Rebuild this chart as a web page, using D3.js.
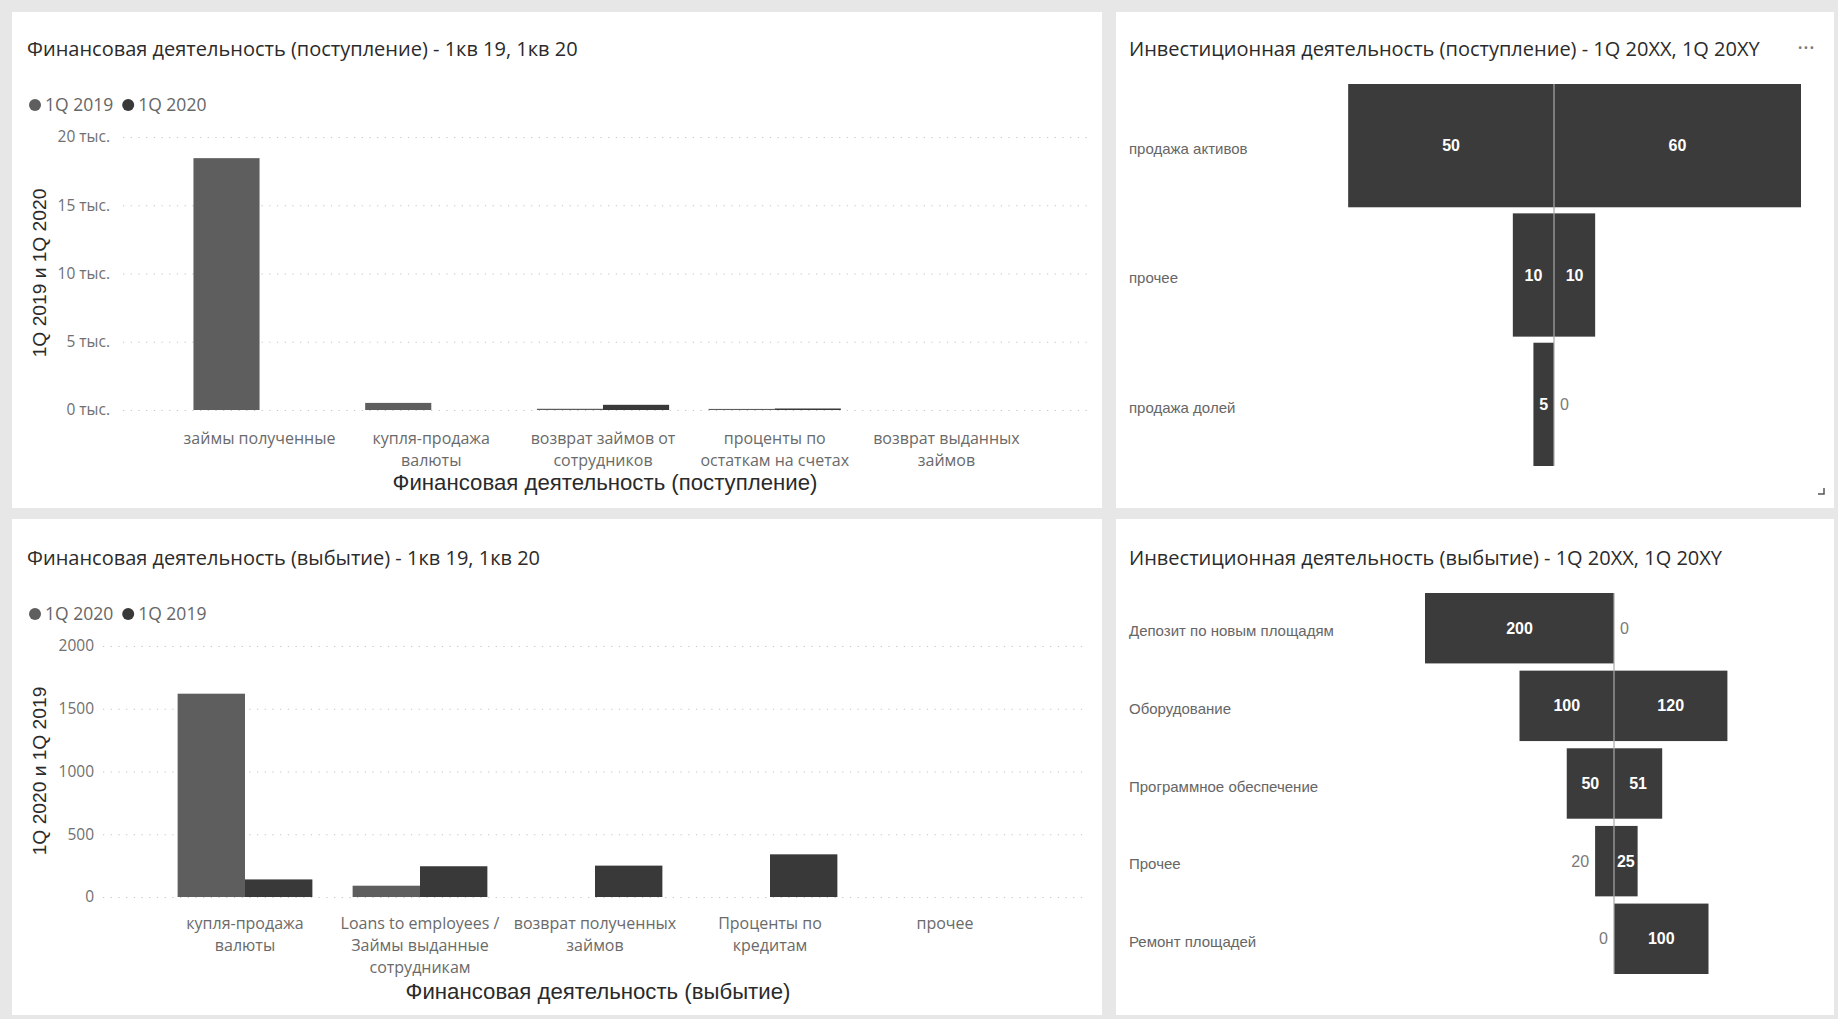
<!DOCTYPE html>
<html><head><meta charset="utf-8">
<script src="https://cdn.jsdelivr.net/npm/d3@7"></script>
<style>
html,body{margin:0;padding:0;background:#e7e7e7;}
svg{display:block}
</style></head><body>
<svg id="chart" width="1838" height="1019"></svg>
<script>
// ---------------- DATA ----------------
const finInCategories = ["займы полученные", "купля-продажа\nвалюты", "возврат займов от\nсотрудников", "проценты по\nостаткам на счетах", "возврат выданных\nзаймов"];
const finInSeries = ["1Q 2019", "1Q 2020"];
const finIn2019 = [18450, 520, 90, 80, 0];
const finIn2020 = [0, 0, 380, 110, 0];
const finInTicks = [0, 5000, 10000, 15000, 20000];

const finOutCategories = ["купля-продажа\nвалюты", "Loans to employees /\nЗаймы выданные\nсотрудникам", "возврат полученных\nзаймов", "Проценты по\nкредитам", "прочее"];
const finOutSeries = ["1Q 2020", "1Q 2019"];
const finOut2020 = [1620, 90, 0, 0, 0];
const finOut2019 = [140, 245, 250, 340, 0];
const finOutTicks = [0, 500, 1000, 1500, 2000];

const invInCategories = ["продажа активов", "прочее", "продажа долей"];
const invInXX = [50, 10, 5];
const invInXY = [60, 10, 0];

const invOutCategories = ["Депозит по новым площадям", "Оборудование", "Программное обеспечение", "Прочее", "Ремонт площадей"];
const invOutXX = [200, 100, 50, 20, 0];
const invOutXY = [0, 120, 51, 25, 100];

// ---------------- STYLE ----------------
const seriesColors = ["#5e5e5e", "#393939"];
const tornadoColor = "#3b3b3b";
const uiFont = "'Open Sans', 'Noto Sans', sans-serif";
const arialFont = "'Liberation Sans', Arial, sans-serif";

const svg = d3.select("#chart");

// panels
const panels = [
  {x:12, y:12, w:1090, h:496},
  {x:1116, y:12, w:718, h:496},
  {x:12, y:519, w:1090, h:496},
  {x:1116, y:519, w:718, h:496}
];
svg.selectAll("rect.panel").data(panels).join("rect").attr("class","panel")
  .attr("x", d=>d.x).attr("y", d=>d.y).attr("width", d=>d.w).attr("height", d=>d.h)
  .attr("fill", "#ffffff");

function title(x, y, t) {
  svg.append("text").attr("x", x).attr("y", y).attr("dy", "0.35em")
    .attr("font-family", uiFont).attr("font-size", 20).attr("fill", "#2b2b2b").text(t);
}

// ------------- grouped column chart -------------
function columnChart(o) {
  const g = svg.append("g");
  title(27, o.titleY, o.title);
  // legend
  const leg = g.append("g").attr("transform", `translate(29,${o.legendY})`);
  let lx = 0;
  o.series.forEach((s, i) => {
    leg.append("circle").attr("cx", lx + 6).attr("cy", 0).attr("r", 6).attr("fill", seriesColors[i]);
    const t = leg.append("text").attr("x", lx + 16).attr("y", 0).attr("dy", "0.35em")
      .attr("font-family", uiFont).attr("font-size", 17.5).attr("fill", "#666").text(s);
    lx += 16 + t.node().getComputedTextLength() + 9;
  });

  const y = d3.scaleLinear().domain([0, o.ticks[o.ticks.length - 1]]).range([o.y0, o.y1]);
  const x = d3.scaleBand().domain(o.categories).range(o.xRange).paddingInner(0.23).paddingOuter(0.115);
  const x1 = d3.scaleBand().domain(o.series).range([0, x.bandwidth()]);

  // y axis with gridlines
  const ya = g.append("g").attr("transform", `translate(${o.gridX0},0)`)
    .call(d3.axisLeft(y).tickValues(o.ticks).tickFormat(o.fmt).tickSize(-(o.gridX1 - o.gridX0)).tickPadding(o.tickPad));
  ya.select(".domain").remove();
  ya.selectAll(".tick line").attr("stroke", "#c4c4c4").attr("stroke-width", 1.2).attr("stroke-dasharray", "1.2,6.5");
  ya.selectAll(".tick text").attr("font-family", uiFont).attr("font-size", 15.5).attr("fill", "#707070");

  // bars
  const rows = o.categories.map((c, i) => ({c, vals: o.values.map((v, j) => ({s: o.series[j], v: v[i], j}))}));
  g.selectAll("g.grp").data(rows).join("g").attr("transform", d => `translate(${x(d.c)},0)`)
    .selectAll("rect").data(d => d.vals.filter(e => e.v > 0)).join("rect")
    .attr("x", d => x1(d.s)).attr("width", x1.bandwidth())
    .attr("y", d => y(d.v)).attr("height", d => y(0) - y(d.v))
    .attr("fill", d => seriesColors[d.j]);

  // x axis labels
  const xa = g.append("g").attr("transform", `translate(0,${o.y0})`)
    .call(d3.axisBottom(x).tickSize(0).tickPadding(o.xPad));
  xa.select(".domain").remove();
  xa.selectAll(".tick text").attr("font-family", uiFont).attr("font-size", 16).attr("fill", "#6a6a6a")
    .each(function(d) {
      const t = d3.select(this); t.text(null);
      d.split("\n").forEach((l, i) => t.append("tspan").attr("x", 0).attr("dy", i === 0 ? "0.71em" : 22).text(l));
    });

  // axis titles
  g.append("text").attr("x", o.xTitleX).attr("y", o.xTitleY).attr("dy", "0.35em").attr("text-anchor", "middle")
    .attr("font-family", arialFont).attr("font-size", 22.2).attr("fill", "#2a2a2a").text(o.xTitle);
  g.append("text").attr("transform", `translate(39,${o.yTitleY}) rotate(-90)`).attr("dy", "0.35em").attr("text-anchor", "middle")
    .attr("font-family", arialFont).attr("font-size", 19.2).attr("fill", "#2a2a2a").text(o.yTitle);
}

columnChart({
  title: "Финансовая деятельность (поступление) - 1кв 19, 1кв 20", titleY: 49,
  legendY: 105, series: finInSeries, categories: finInCategories, values: [finIn2019, finIn2020],
  ticks: finInTicks, fmt: d => (d / 1000) + " тыс.",
  y0: 410, y1: 137, xRange: [173.7, 1032.3], gridX0: 123, gridX1: 1088, tickPad: 13, xPad: 23,
  xTitle: "Финансовая деятельность (поступление)", xTitleX: 605, xTitleY: 482,
  yTitle: "1Q 2019 и 1Q 2020", yTitleY: 273
});

columnChart({
  title: "Финансовая деятельность (выбытие) - 1кв 19, 1кв 20", titleY: 558,
  legendY: 614, series: finOutSeries, categories: finOutCategories, values: [finOut2020, finOut2019],
  ticks: finOutTicks, fmt: d3.format("d"),
  y0: 897, y1: 646, xRange: [157.5, 1032.5], gridX0: 103, gridX1: 1088, tickPad: 9, xPad: 21,
  xTitle: "Финансовая деятельность (выбытие)", xTitleX: 598, xTitleY: 991,
  yTitle: "1Q 2020 и 1Q 2019", yTitleY: 771
});

// ------------- tornado chart -------------
function tornado(o) {
  const g = svg.append("g");
  title(1129, o.titleY, o.title);
  const yb = d3.scaleBand().domain(o.categories).range(o.yRange).paddingInner(o.pad);
  const xs = d3.scaleLinear().domain([0, d3.max(o.left.concat(o.right))]).range([0, o.half]);
  const cx = o.center;

  g.selectAll("text.cat").data(o.categories).join("text").attr("class", "cat")
    .attr("x", 1129).attr("y", d => yb(d) + yb.bandwidth() / 2 + 3).attr("dy", "0.35em")
    .attr("font-family", arialFont).attr("font-size", 15).attr("fill", "#666").text(d => d);

  const items = [];
  o.categories.forEach((c, i) => {
    items.push({c, v: o.left[i], side: -1});
    items.push({c, v: o.right[i], side: 1});
  });
  g.selectAll("rect.bar").data(items.filter(d => d.v > 0)).join("rect").attr("class", "bar")
    .attr("x", d => d.side < 0 ? cx - xs(d.v) : cx).attr("width", d => xs(d.v))
    .attr("y", d => yb(d.c)).attr("height", yb.bandwidth()).attr("fill", tornadoColor);

  g.append("line").attr("x1", cx).attr("x2", cx).attr("y1", o.yRange[0]).attr("y2", o.yRange[1])
    .attr("stroke", "#a8a8a8").attr("stroke-width", 1.2);

  g.selectAll("text.val").data(items).join("text").attr("class", "val")
    .attr("y", d => yb(d.c) + yb.bandwidth() / 2).attr("dy", "0.35em")
    .attr("font-family", arialFont).attr("font-size", 16).text(d => d.v)
    .each(function(d) {
      const t = d3.select(this);
      const w = this.getComputedTextLength();
      const bw = xs(d.v);
      if (bw >= w + 4) {
        t.attr("font-weight", "bold").attr("fill", "#fff").attr("text-anchor", "middle")
          .attr("x", cx + d.side * bw / 2);
      } else {
        t.attr("fill", "#7a7a7a").attr("text-anchor", d.side < 0 ? "end" : "start")
          .attr("x", cx + d.side * (bw + 6));
      }
    });
}

tornado({
  title: "Инвестиционная деятельность (поступление) - 1Q 20XX, 1Q 20XY", titleY: 49,
  categories: invInCategories, left: invInXX, right: invInXY,
  yRange: [84, 466], pad: 0.047, center: 1554, half: 247
});
tornado({
  title: "Инвестиционная деятельность (выбытие) - 1Q 20XX, 1Q 20XY", titleY: 558,
  categories: invOutCategories, left: invOutXX, right: invOutXY,
  yRange: [593, 974], pad: 0.093, center: 1614, half: 189
});

// visual header decorations
svg.append("text").attr("x", 1806).attr("y", 47).attr("text-anchor", "middle").attr("dy", "0.35em")
  .attr("font-family", uiFont).attr("font-size", 22).attr("fill", "#777").text("···");
svg.append("path").attr("d", "M1824,488 V494 H1818").attr("fill", "none").attr("stroke", "#555").attr("stroke-width", 1.5);
</script>
</body></html>
